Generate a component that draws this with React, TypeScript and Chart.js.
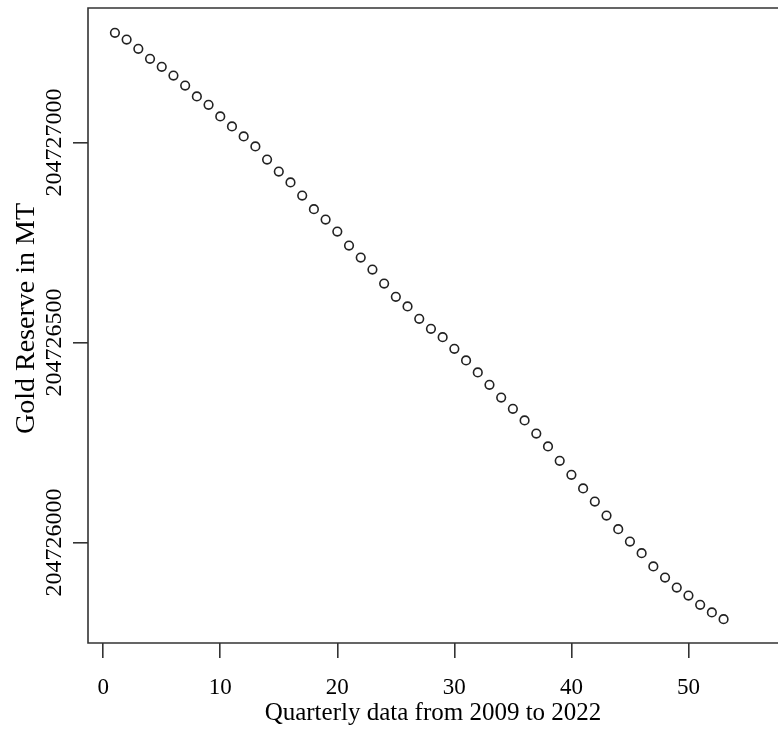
import React, { useEffect, useRef } from "react";
import { Chart, registerables } from "chart.js";

Chart.register(...registerables);

// Quarter index (x) and gold reserve (y)
const quarters = [
  1, 2, 3, 4, 5, 6, 7, 8, 9, 10, 11, 12, 13, 14, 15, 16, 17, 18, 19, 20,
  21, 22, 23, 24, 25, 26, 27, 28, 29, 30, 31, 32, 33, 34, 35, 36, 37, 38, 39, 40,
  41, 42, 43, 44, 45, 46, 47, 48, 49, 50, 51, 52, 53,
];
const goldReserve = [
  204727274, 204727257, 204727234, 204727209, 204727189, 204727167, 204727142,
  204727115, 204727094, 204727065, 204727040, 204727015, 204726990, 204726957,
  204726927, 204726900, 204726867, 204726833, 204726807, 204726777, 204726742,
  204726712, 204726682, 204726647, 204726614, 204726590, 204726559, 204726534,
  204726513, 204726484, 204726455, 204726425, 204726394, 204726362, 204726334,
  204726305, 204726272, 204726240, 204726204, 204726169, 204726135, 204726102,
  204726067, 204726033, 204726002, 204725973, 204725940, 204725912, 204725887,
  204725867, 204725844, 204725825, 204725808,
];
const xTickValues = [0, 10, 20, 30, 40, 50];
const yTickValues = [204726000, 204726500, 204727000];
const xTitle = "Quarterly data from 2009 to 2022";
const yTitle = "Gold Reserve in MT";

const SERIF = "'Liberation Serif', 'Times New Roman', serif";
const AXIS_COLOR = "#333";

export default function App() {
  const ref = useRef<HTMLCanvasElement | null>(null);

  useEffect(() => {
    if (!ref.current) return;

    const framePlugin = {
      id: "rframe",
      afterDraw(chart: any) {
        const { ctx, chartArea, width } = chart;
        ctx.save();
        ctx.strokeStyle = AXIS_COLOR;
        ctx.lineWidth = 1.6;
        ctx.beginPath();
        ctx.moveTo(width, chartArea.top);
        ctx.lineTo(chartArea.left, chartArea.top);
        ctx.lineTo(chartArea.left, chartArea.bottom);
        ctx.lineTo(width, chartArea.bottom);
        ctx.stroke();

        // y tick labels, rotated (R style)
        const ys = chart.scales.y;
        ctx.fillStyle = "#000";
        ctx.font = `24px ${SERIF}`;
        ctx.textAlign = "center";
        ctx.textBaseline = "middle";
        for (const v of yTickValues) {
          const py = ys.getPixelForValue(v);
          ctx.save();
          ctx.translate(chartArea.left - 33, py);
          ctx.rotate(-Math.PI / 2);
          ctx.fillText(String(v), 0, 0);
          ctx.restore();
        }

        // y axis title
        ctx.font = `28px ${SERIF}`;
        ctx.save();
        ctx.translate(27, (chartArea.top + chartArea.bottom) / 2 - 7);
        ctx.rotate(-Math.PI / 2);
        ctx.fillText(yTitle, 0, 0);
        ctx.restore();
        ctx.restore();
      },
    };

    const chart = new Chart(ref.current, {
      type: "scatter",
      data: {
        datasets: [
          {
            data: quarters.map((q, i) => ({ x: q, y: goldReserve[i] })),
            pointStyle: "circle",
            pointRadius: 4.3,
            pointHoverRadius: 4.3,
            borderWidth: 1.6,
            borderColor: "#222",
            backgroundColor: "rgba(0,0,0,0)",
            showLine: false,
          },
        ],
      },
      options: {
        animation: false,
        responsive: false,
        devicePixelRatio: 1,
        layout: { autoPadding: false, padding: { top: 8, left: 0, right: 0, bottom: 0 } },
        plugins: {
          legend: { display: false },
          tooltip: { enabled: false },
        },
        scales: {
          x: {
            type: "linear",
            min: -1.3,
            max: 57.65,
            afterFit: (s: any) => {
              s.height = 87;
            },
            afterBuildTicks: (s: any) => {
              s.ticks = xTickValues.map((v) => ({ value: v }));
            },
            border: { display: false },
            grid: {
              display: true,
              drawOnChartArea: false,
              drawTicks: true,
              tickLength: 15,
              color: AXIS_COLOR,
              lineWidth: 1.6,
            },
            ticks: {
              autoSkip: false,
              maxRotation: 0,
              minRotation: 0,
              padding: 16,
              color: "#000",
              font: { family: SERIF, size: 23 },
              callback: (v: any) => String(v),
            },
            title: {
              display: true,
              text: xTitle,
              color: "#000",
              font: { family: SERIF, size: 25 },
              padding: { top: 0, bottom: 2 },
            },
          },
          y: {
            type: "linear",
            min: 204725748.5,
            max: 204727336,
            afterFit: (s: any) => {
              s.width = 88;
            },
            afterBuildTicks: (s: any) => {
              s.ticks = yTickValues.map((v) => ({ value: v }));
            },
            border: { display: false },
            grid: {
              display: true,
              drawOnChartArea: false,
              drawTicks: true,
              tickLength: 15,
              color: AXIS_COLOR,
              lineWidth: 1.6,
            },
            ticks: {
              display: false,
            },
            title: { display: false },
          },
        },
      },
      plugins: [framePlugin],
    });

    return () => chart.destroy();
  }, []);

  return (
    <div style={{ position: "absolute", left: 0, top: 0, width: 778, height: 730, background: "#fff" }}>
      <canvas ref={ref} width={778} height={730} />
    </div>
  );
}
